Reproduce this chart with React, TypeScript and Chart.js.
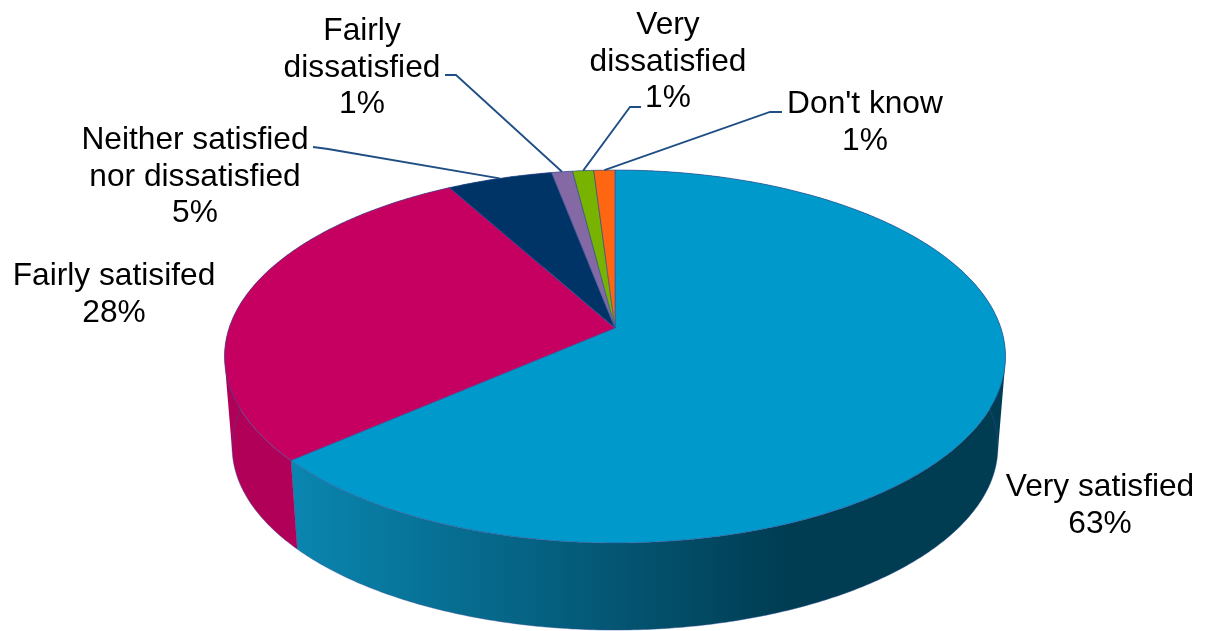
import React, { useEffect, useRef } from "react";
import { Chart, ArcElement, DoughnutController, registerables } from "chart.js";

const categories = ["Very satisfied", "Fairly satisifed", "Neither satisfied nor dissatisfied", "Fairly dissatisfied", "Very dissatisfied", "Don't know"];
const percentages = [63, 28, 5, 1, 1, 1];
const labelLines = [["Very satisfied"], ["Fairly satisifed"], ["Neither satisfied", "nor dissatisfied"], ["Fairly", "dissatisfied"], ["Very", "dissatisfied"], ["Don't know"]];
const topColours = ["#0099cc", "#c60060", "#003366", "#8469a5", "#77b300", "#ff6611"];
const wallStart = ["#0a86b0", "#b00058", "#002a55", "#6a5488", "#609000", "#d05010"];
const wallEnd = ["#003c52", "#a80054", "#002a55", "#6a5488", "#609000", "#d05010"];
const labelAnchors = [[1100, 487], [114, 276], [195, 140], [362, 31], [668, 25], [865, 104]];
const leaderElbows: (number[][] | null)[] = [null, null, [[313, 147], [328, 149]], [[445, 75], [456, 75]], [[641, 107], [630, 107]], [[782, 112], [770, 112]]];

const FONT = '31.7px "Liberation Sans", Arial, sans-serif';
const LINE_HEIGHT = 36.8;
const K = 0.1528;
const TOP = { ax: 385.9, by: 182.1, dy: 0 };
const BOTTOM = { ax: 378.4, by: 178.8, dy: 91 };

type Face = { ax: number; by: number; dy: number };

function project(cx: number, cy: number, angle: number, f: Face) {
  const u = Math.cos(angle);
  const v = Math.sin(angle);
  const d = 1 - K * v;
  return { x: cx + (f.ax * u) / d, y: cy + f.dy + (f.by * v) / d };
}

class PerspectiveArc extends ArcElement {
  static id = "perspectiveArc";
  draw(ctx: CanvasRenderingContext2D) {
    const { x, y, startAngle, endAngle } = this.getProps(["x", "y", "startAngle", "endAngle"]) as any;
    const o = (this as any).options;
    const steps = Math.max(4, Math.ceil((endAngle - startAngle) / 0.01));
    ctx.save();
    ctx.beginPath();
    ctx.moveTo(x, y);
    for (let i = 0; i <= steps; i++) {
      const p = project(x, y, startAngle + ((endAngle - startAngle) * i) / steps, TOP);
      ctx.lineTo(p.x, p.y);
    }
    ctx.closePath();
    ctx.fillStyle = o.backgroundColor;
    ctx.fill();
    ctx.lineWidth = 1;
    ctx.lineJoin = "round";
    ctx.strokeStyle = "rgba(52,82,150,0.65)";
    ctx.stroke();
    ctx.restore();
  }
}

class PerspectivePie extends DoughnutController {
  static id = "perspectivePie";
  static defaults = { dataElementType: "perspectiveArc" };
}

const wallsPlugin = {
  id: "walls",
  beforeDatasetsDraw(chart: any) {
    const ctx: CanvasRenderingContext2D = chart.ctx;
    chart.getDatasetMeta(0).data.forEach((arc: any, idx: number) => {
      const { x, y, startAngle, endAngle } = arc;
      const steps = Math.max(4, Math.ceil((endAngle - startAngle) / 0.01));
      const ang = (i: number) => startAngle + ((endAngle - startAngle) * i) / steps;
      const a = project(x, y, startAngle, TOP);
      const b = project(x, y, endAngle, TOP);
      const g = ctx.createLinearGradient(Math.min(a.x, b.x), 0, idx === 0 ? 790 : Math.max(a.x, b.x), 0);
      // the blue wall runs light at the seam on the left to dark towards the right
      g.addColorStop(0, wallStart[idx]);
      g.addColorStop(1, wallEnd[idx]);
      ctx.save();
      ctx.beginPath();
      for (let i = 0; i < steps; i++) {
        const t0 = project(x, y, ang(i), TOP);
        const t1 = project(x, y, ang(i + 1), TOP);
        const b1 = project(x, y, ang(i + 1), BOTTOM);
        const b0 = project(x, y, ang(i), BOTTOM);
        let q = [t0, t1, b1, b0];
        let area = 0;
        q.forEach((p, j) => {
          const n = q[(j + 1) % 4];
          area += p.x * n.y - n.x * p.y;
        });
        if (area < 0) q = q.reverse();
        ctx.moveTo(q[0].x, q[0].y);
        for (let j = 1; j < 4; j++) ctx.lineTo(q[j].x, q[j].y);
        ctx.closePath();
      }
      ctx.fillStyle = g;
      ctx.fill("nonzero");
      // thin edges of the bottom rim and the seam
      ctx.beginPath();
      for (let i = 0; i <= steps; i++) {
        const p = project(x, y, ang(i), BOTTOM);
        if (i === 0) ctx.moveTo(p.x, p.y);
        else ctx.lineTo(p.x, p.y);
      }
      ctx.strokeStyle = "rgba(52,82,150,0.45)";
      ctx.lineWidth = 1;
      if (idx < 2) ctx.stroke();
      if (idx === 0) {
        const s = project(x, y, endAngle, TOP);
        const e = project(x, y, endAngle, BOTTOM);
        ctx.beginPath();
        ctx.moveTo(s.x, s.y);
        ctx.lineTo(e.x, e.y);
        ctx.strokeStyle = "rgba(52,82,150,0.6)";
        ctx.stroke();
      }
      ctx.restore();
    });
  },
  afterDatasetsDraw(chart: any) {
    const ctx: CanvasRenderingContext2D = chart.ctx;
    const arcs = chart.getDatasetMeta(0).data;
    ctx.save();
    leaderElbows.forEach((pts, i) => {
      if (!pts) return;
      const arc = arcs[i];
      const end = project(arc.x, arc.y, (arc.startAngle + arc.endAngle) / 2, TOP);
      ctx.beginPath();
      ctx.moveTo(pts[0][0], pts[0][1]);
      ctx.lineTo(pts[1][0], pts[1][1]);
      ctx.lineTo(end.x, end.y);
      ctx.strokeStyle = "#1f4e85";
      ctx.lineWidth = 1.8;
      ctx.stroke();
    });
    ctx.font = FONT;
    ctx.fillStyle = "#000000";
    ctx.textAlign = "center";
    ctx.textBaseline = "middle";
    categories.forEach((_, i) => {
      const lines = [...labelLines[i], percentages[i] + "%"];
      lines.forEach((t, j) => ctx.fillText(t, labelAnchors[i][0], labelAnchors[i][1] + j * LINE_HEIGHT));
    });
    ctx.restore();
  },
};

Chart.register(...registerables, PerspectiveArc as any, PerspectivePie as any);

export default function App() {
  const ref = useRef<HTMLCanvasElement>(null);
  useEffect(() => {
    if (!ref.current) return;
    const chart = new Chart(ref.current, {
      type: "perspectivePie" as any,
      data: {
        labels: categories,
        datasets: [{ data: percentages, backgroundColor: topColours, borderWidth: 0 }],
      },
      options: {
        responsive: false,
        animation: false,
        events: [],
        cutout: 0,
        layout: { padding: { left: 20, top: 25, right: 0, bottom: 0 } },
        plugins: { legend: { display: false }, tooltip: { enabled: false } },
      } as any,
      plugins: [wallsPlugin],
    });
    return () => chart.destroy();
  }, []);
  return (
    <div style={{ position: "absolute", left: 0, top: 0, width: 1210, height: 631, background: "#ffffff" }}>
      <canvas ref={ref} width={1210} height={631} style={{ display: "block" }} />
    </div>
  );
}
